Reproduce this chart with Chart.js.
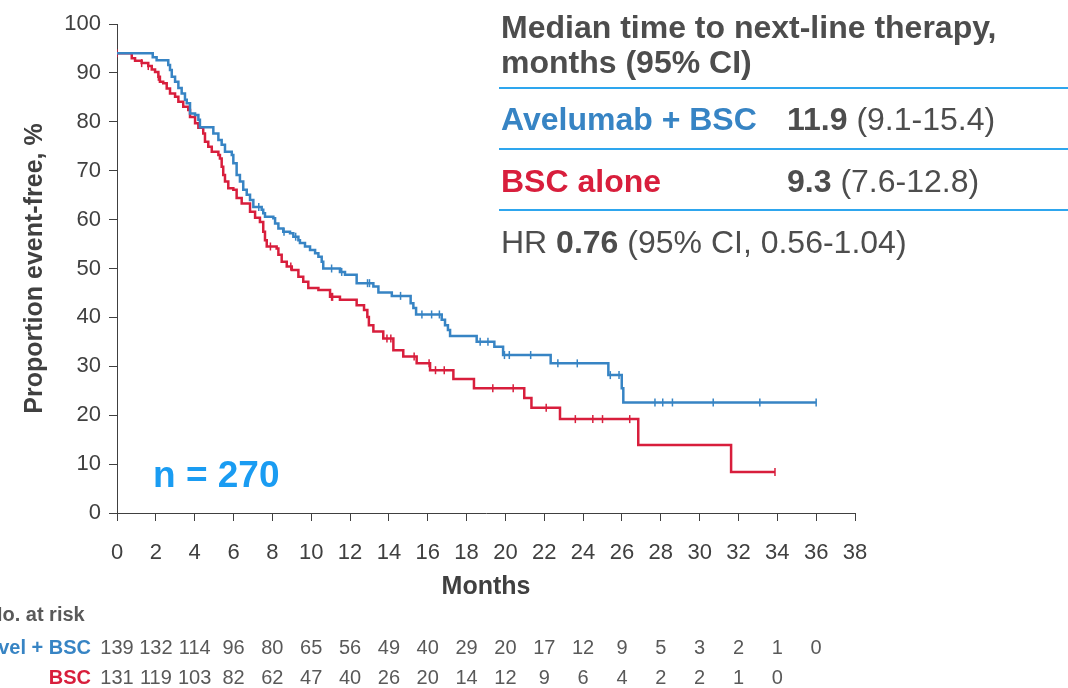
<!DOCTYPE html>
<html>
<head>
<meta charset="utf-8">
<script src="https://cdn.jsdelivr.net/npm/chart.js@4.4.1/dist/chart.umd.min.js"></script>
<style>
  html, body { margin:0; padding:0; background:#fff; }
  body { width:1068px; height:688px; overflow:hidden; position:relative; font-family:"Liberation Sans", Arial, sans-serif; }
  #wrap { position:absolute; left:0; top:0; width:1068px; height:688px; }
  .t { position:absolute; white-space:nowrap; color:#4d4d4d; font-size:32px; line-height:36px; }
  .rule { position:absolute; left:499px; width:569px; height:2px; background:#2ea6ee; }
</style>
</head>
<body>
<div id="wrap"><canvas id="c" width="1068" height="688"></canvas></div>

<div class="t" style="left:501px; top:9px; font-weight:bold;">Median time to next-line therapy,</div>
<div class="t" style="left:501px; top:44px; font-weight:bold;">months (95% CI)</div>
<div class="rule" style="top:87px;"></div>
<div class="t" style="left:501px; top:101px; font-weight:bold; color:#3784c4;">Avelumab + BSC</div>
<div class="t" style="left:787px; top:101px;"><b>11.9</b> (9.1-15.4)</div>
<div class="rule" style="top:148px;"></div>
<div class="t" style="left:501px; top:163px; font-weight:bold; color:#d81e3c;">BSC alone</div>
<div class="t" style="left:787px; top:163px;"><b>9.3</b> (7.6-12.8)</div>
<div class="rule" style="top:209px;"></div>
<div class="t" style="left:501px; top:224px;">HR <b>0.76</b> (95% CI, 0.56-1.04)</div>
<div class="t" style="left:153px; top:455px; font-size:37px; line-height:40px; font-weight:bold; color:#1a9cf2;">n = 270</div>

<script>
// ---- Data ----
const blueTimes = [0, 1.84, 2.04, 2.64, 2.73, 2.82, 2.99, 3.16, 3.33, 3.50, 3.59, 3.76, 4.02, 4.19, 4.27, 4.96, 5.22, 5.39, 5.56, 5.91, 5.99, 6.16, 6.33, 6.50, 6.68, 6.85, 7.02, 7.45, 7.53, 7.62, 8.05, 8.14, 8.31, 8.56, 8.91, 9.08, 9.34, 9.42, 9.68, 9.94, 10.20, 10.37, 10.54, 10.62, 11.48, 11.74, 12.34, 13.20, 13.46, 14.15, 15.12, 15.26, 15.40, 16.72, 16.89, 17.04, 17.15, 18.52, 19.43, 19.88, 22.33, 25.30, 25.99, 26.07, 36.0];
const blueSurv  = [94, 93.2, 92.6, 91.6, 90.6, 89.2, 88.2, 86.9, 85.8, 84.5, 83.8, 81.7, 81.4, 80.4, 78.9, 77.6, 76.3, 75.3, 73.9, 73.2, 71.5, 69.1, 67.8, 66.1, 65.1, 64.0, 62.6, 62.0, 61.3, 60.6, 60.3, 59.2, 58.2, 57.5, 57.2, 56.5, 55.8, 55.2, 54.5, 53.8, 53.1, 52.4, 51.4, 50.0, 49.3, 48.7, 47.0, 46.3, 45.1, 44.4, 42.9, 41.9, 40.6, 39.5, 38.4, 37.4, 36.2, 35.0, 34.0, 32.3, 30.6, 28.2, 25.5, 22.6, 22.6];

const redTimes = [0, 0.76, 0.93, 1.27, 1.61, 1.79, 1.96, 2.13, 2.21, 2.38, 2.56, 2.73, 2.99, 3.16, 3.41, 3.67, 3.76, 4.02, 4.19, 4.44, 4.53, 4.70, 4.88, 5.22, 5.30, 5.39, 5.47, 5.56, 5.73, 5.99, 6.16, 6.42, 6.85, 7.11, 7.36, 7.53, 7.62, 7.71, 8.22, 8.31, 8.48, 8.74, 9.00, 9.34, 9.59, 9.85, 10.37, 10.97, 11.48, 12.34, 12.72, 12.89, 12.97, 13.20, 13.71, 14.23, 14.74, 15.43, 16.12, 17.32, 18.38, 20.97, 21.34, 22.81, 26.84, 31.62, 33.88];
const redSurv  = [94, 93.0, 92.5, 92.0, 91.4, 90.7, 90.2, 89.2, 88.2, 87.9, 86.8, 85.8, 85.1, 84.1, 83.1, 82.4, 81.0, 79.7, 78.8, 77.6, 75.9, 74.9, 73.9, 73.2, 72.5, 70.8, 69.1, 67.8, 66.4, 66.1, 64.4, 63.3, 61.6, 60.4, 59.5, 57.5, 55.8, 54.5, 54.1, 52.8, 51.4, 50.4, 49.7, 48.3, 47.3, 46.0, 45.6, 44.2, 43.6, 42.5, 41.5, 40.1, 38.4, 37.1, 35.7, 33.3, 32.0, 30.6, 29.2, 27.4, 25.5, 23.5, 21.5, 19.2, 13.9, 8.4, 8.4];

const blueCensorTimes = [7.3, 8.6, 9.2, 11.05, 11.57, 12.9, 13.0, 14.6, 15.7, 16.2, 16.6, 18.7, 19.1, 19.95, 20.2, 21.3, 22.7, 23.7, 25.4, 25.85, 27.7, 28.1, 28.6, 30.7, 33.1, 36.0];
const blueCensorSurv  = [62.6, 57.5, 56.5, 50.0, 49.3, 47.0, 47.0, 44.4, 40.6, 40.6, 40.6, 35.0, 35.0, 32.3, 32.3, 32.3, 30.6, 30.6, 28.2, 28.2, 22.6, 22.6, 22.6, 22.6, 22.6, 22.6];
const redCensorTimes = [0, 1.27, 1.61, 2.13, 7.9, 8.95, 11.05, 11.1, 13.9, 14.1, 15.3, 16.07, 16.4, 16.85, 19.35, 20.4, 22.1, 23.6, 24.5, 25.0, 26.4, 33.88];
const redCensorSurv  = [94, 92.0, 91.4, 89.2, 54.5, 50.4, 44.2, 44.2, 35.7, 35.7, 32.0, 30.6, 29.2, 29.2, 25.5, 25.5, 21.5, 19.2, 19.2, 19.2, 19.2, 8.4];

const riskTimes = [0, 2, 4, 6, 8, 10, 12, 14, 16, 18, 20, 22, 24, 26, 28, 30, 32, 34, 36];
const blueAtRisk = [139, 132, 114, 96, 80, 65, 56, 49, 40, 29, 20, 17, 12, 9, 5, 3, 2, 1, 0];
const redAtRisk  = [131, 119, 103, 82, 62, 47, 40, 26, 20, 14, 12, 9, 6, 4, 2, 2, 1, 0];

const BLUE = '#3784c4';
const RED = '#d81e3c';
const GREY = '#404040';
const FONT = '"Liberation Sans", Arial, sans-serif';

const pts = (xs, ys) => xs.map((x, i) => ({ x: x, y: ys[i] }));

const atRiskPlugin = {
  id: 'atRisk',
  afterDraw(chart) {
    const c = chart.ctx;
    const xs = chart.scales.x;
    c.save();
    c.textBaseline = 'middle';
    c.font = 'bold 20px ' + FONT;
    c.fillStyle = '#595959';
    c.textAlign = 'left';
    c.fillText('No. at risk', -12, 615);
    c.font = 'bold 20px ' + FONT;
    c.textAlign = 'right';
    c.fillStyle = BLUE;
    c.fillText('Avel + BSC', 91, 648);
    c.fillStyle = RED;
    c.fillText('BSC', 91, 678);
    c.font = '20px ' + FONT;
    c.fillStyle = '#595959';
    c.textAlign = 'center';
    blueAtRisk.forEach((v, i) => c.fillText(String(v), xs.getPixelForValue(riskTimes[i]), 648));
    redAtRisk.forEach((v, i) => c.fillText(String(v), xs.getPixelForValue(riskTimes[i]), 678));
    c.restore();
  }
};

new Chart(document.getElementById('c'), {
  type: 'line',
  data: {
    datasets: [
      { data: pts(blueTimes, blueSurv), stepped: true, borderColor: BLUE, borderWidth: 2.5, pointRadius: 0, fill: false },
      { data: pts(redTimes, redSurv), stepped: true, borderColor: RED, borderWidth: 2.5, pointRadius: 0, fill: false },
      { data: pts(blueCensorTimes, blueCensorSurv), showLine: false, pointStyle: 'line', rotation: 90, pointRadius: 4, borderColor: BLUE, pointBorderColor: BLUE, pointBorderWidth: 1.5 },
      { data: pts(redCensorTimes, redCensorSurv), showLine: false, pointStyle: 'line', rotation: 90, pointRadius: 4, borderColor: RED, pointBorderColor: RED, pointBorderWidth: 1.5 }
    ]
  },
  options: {
    responsive: false,
    animation: false,
    devicePixelRatio: 1,
    layout: { padding: { left: 0, top: 24, right: 213, bottom: 86 } },
    plugins: { legend: { display: false }, tooltip: { enabled: false } },
    elements: { line: { tension: 0 } },
    scales: {
      x: {
        type: 'linear', min: 0, max: 38,
        ticks: { stepSize: 2, color: GREY, font: { family: FONT, size: 22 }, padding: 19, maxRotation: 0, autoSkip: false },
        grid: { drawOnChartArea: false, tickLength: 8, color: GREY },
        border: { color: GREY, width: 1 },
        title: { display: true, text: 'Months', color: GREY, font: { family: FONT, size: 25, weight: 'bold' }, padding: 0 },
        afterFit(s) { s.height = 89; }
      },
      y: {
        min: 0, max: 100,
        ticks: { stepSize: 10, color: GREY, font: { family: FONT, size: 22 }, padding: 8 },
        grid: { drawOnChartArea: false, tickLength: 8, color: GREY },
        border: { color: GREY, width: 1 },
        title: { display: true, text: 'Proportion event-free, %', color: GREY, font: { family: FONT, size: 25, weight: 'bold' }, padding: { top: 20, bottom: 0 } },
        afterFit(s) { s.width = 117; }
      }
    }
  },
  plugins: [atRiskPlugin]
});
</script>
</body>
</html>
